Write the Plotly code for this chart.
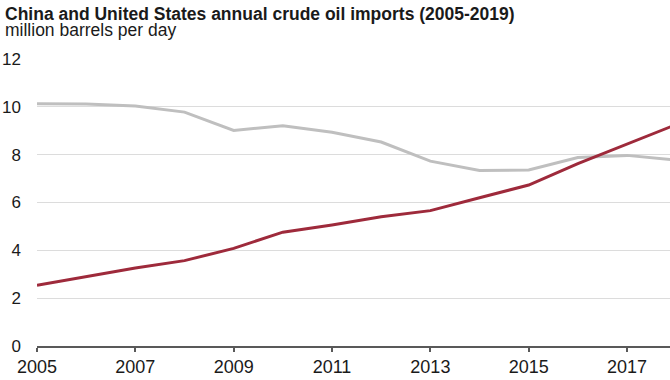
import plotly.graph_objects as go

years = list(range(2005, 2020))
us_imports = [10.13, 10.12, 10.03, 9.78, 9.01, 9.21, 8.94, 8.53, 7.73, 7.34, 7.36, 7.88, 7.97, 7.77, 6.80]
china_imports = [2.54, 2.90, 3.26, 3.57, 4.08, 4.76, 5.06, 5.40, 5.66, 6.20, 6.73, 7.63, 8.43, 9.26, 10.10]
x_tick_vals = [2005, 2007, 2009, 2011, 2013, 2015, 2017]
y_tick_vals = [0, 2, 4, 6, 8, 10, 12]

title_text = "China and United States annual crude oil imports (2005-2019)"
subtitle_text = "million barrels per day"

FONT = "Liberation Sans, Arial, sans-serif"

fig = go.Figure()
fig.add_trace(go.Scatter(x=years, y=us_imports, mode="lines", name="United States",
                         line=dict(color="#bfbfbf", width=3), hoverinfo="skip"))
fig.add_trace(go.Scatter(x=years, y=china_imports, mode="lines", name="China",
                         line=dict(color="#9e2a3b", width=3), hoverinfo="skip"))

W, H = 670, 380
ml, mr, mt, mb = 37, 0, 59, 34
plot_w = W - ml - mr
plot_h = H - mt - mb

fig.update_layout(
    width=W, height=H,
    margin=dict(l=ml, r=mr, t=mt, b=mb, pad=0, autoexpand=False),
    paper_bgcolor="white", plot_bgcolor="white",
    showlegend=False,
    font=dict(family=FONT, color="#1a1a1a", size=16),
    xaxis=dict(range=[2005, 2005 + plot_w / 49.17], tickvals=x_tick_vals, automargin=False,
               showgrid=False, zeroline=False, showline=True, linecolor="#595959", linewidth=1.5,
               ticks="outside", ticklen=4, tickcolor="#595959", tickwidth=1.5,
               ticklabelstandoff=0,
               tickfont=dict(size=18, family=FONT, color="#1a1a1a"), fixedrange=True),
    yaxis=dict(range=[0, 12], tickvals=y_tick_vals, automargin=False,
               showgrid=True, gridcolor="#dcdcdc", gridwidth=1,
               zeroline=False, showline=False, ticks="", ticklabelstandoff=15,
               tickfont=dict(size=17, family=FONT, color="#1a1a1a"), fixedrange=True),
    annotations=[
        dict(text="<b>" + title_text + "</b>", xref="paper", yref="paper",
             x=-(ml - 3) / plot_w, y=1 + (mt - 14) / plot_h, xanchor="left", yanchor="middle",
             showarrow=False, font=dict(size=17.5, family=FONT, color="#1a1a1a")),
        dict(text=subtitle_text, xref="paper", yref="paper",
             x=-(ml - 3) / plot_w, y=1 + (mt - 30) / plot_h, xanchor="left", yanchor="middle",
             showarrow=False, font=dict(size=17.5, family=FONT, color="#1a1a1a")),
    ],
)

# remove the default page margin so the figure fills the 670x380 window exactly
fig.write_html("out.html", config={"displayModeBar": False},
               post_script="document.body.style.margin='0';")
